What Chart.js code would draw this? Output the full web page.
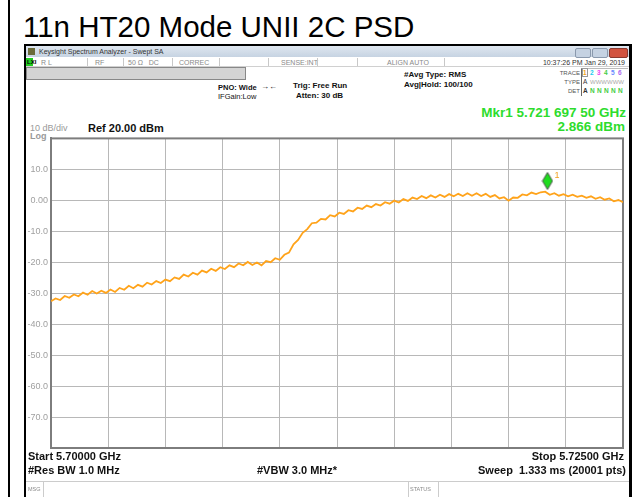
<!DOCTYPE html>
<html><head><meta charset="utf-8">
<script src="https://cdn.jsdelivr.net/npm/chart.js@4.4.1/dist/chart.umd.min.js"></script>
<style>
html,body{margin:0;padding:0;background:#fff;width:639px;height:497px;overflow:hidden;font-family:"Liberation Sans",Arial,sans-serif;}
.a{position:absolute;white-space:nowrap;line-height:1;}
.g{color:#8a8a8a;font-size:7px;}
.b{font-weight:bold;color:#111;}
.ln{position:absolute;background:#c8c8c8;}
.d{display:inline-block;width:7px;text-align:left;}
</style></head><body>
<script>
// ---- DATA ----
const startMHz = 5700, stopMHz = 5725, stepMHz = 0.2;
const traceDbm = [
-32.6,-31.7,-32.2,-30.9,-31.5,-30.4,-31.0,-29.8,-30.5,-29.3,
-30.1,-29.2,-29.9,-28.8,-29.6,-28.3,-28.9,-27.6,-28.4,-27.3,
-27.9,-26.6,-27.2,-26.1,-26.7,-25.6,-26.1,-24.9,-25.4,-24.0,
-24.6,-23.4,-24.0,-22.7,-23.3,-22.1,-22.8,-21.6,-22.2,-21.0,
-21.6,-20.4,-21.0,-19.9,-20.9,-20.1,-21.0,-19.6,-20.0,-18.7,
-19.2,-17.6,-16.9,-14.2,-12.8,-10.5,-9.3,-7.4,-7.2,-6.0,
-6.2,-4.8,-5.2,-4.0,-4.4,-3.2,-3.6,-2.4,-2.8,-1.7,
-2.2,-1.2,-1.7,-0.6,-1.1,-0.1,-0.7,0.4,-0.2,0.9,
0.4,1.4,0.7,1.6,0.9,1.8,1.1,2.0,1.3,2.1,
1.4,2.3,1.5,2.3,1.4,2.1,1.1,1.7,0.6,1.0,
-0.1,0.9,0.8,1.9,1.6,2.5,2.0,2.6,2.8,1.8,
2.3,1.5,2.0,1.3,1.8,1.1,1.5,0.8,1.3,0.5,
1.0,0.2,0.6,-0.3,0.1,-0.6
];
const markerMHz = [5721.6975];
const markerDbm = [2.866];
const yTickValues = [10,0,-10,-20,-30,-40,-50,-60,-70];
const yTickLabels = ['10.0','0.00','-10.0','-20.0','-30.0','-40.0','-50.0','-60.0','-70.0'];
</script>

<!-- outer frame -->
<div style="position:absolute;left:8px;top:0;width:2px;height:497px;background:#000"></div>
<div class="a" style="left:23px;top:12px;font-size:29.5px;color:#000;">11n HT20 Mode UNII 2C PSD</div>

<!-- screenshot window -->
<div style="position:absolute;left:24px;top:44px;width:603px;height:460px;border-left:2px solid #000;border-right:3px solid #000;border-top:2px solid #000;background:#fff"></div>
<div style="position:absolute;left:26px;top:46px;width:603px;height:11px;background:linear-gradient(#dfe7f0,#c6d3e2);"></div>
<div style="position:absolute;left:28px;top:48px;width:7px;height:7px;background:#6b6b3a"></div>
<div class="a" style="left:39px;top:48px;font-size:7px;color:#333;">Keysight Spectrum Analyzer - Swept SA</div>
<div style="position:absolute;left:575px;top:48px;width:14px;height:8px;background:#c5d2e2;border:1px solid #8a99ad;border-radius:2px"></div>
<div style="position:absolute;left:592px;top:48px;width:14px;height:8px;background:#c5d2e2;border:1px solid #8a99ad;border-radius:2px"></div>
<div style="position:absolute;left:609px;top:48px;width:17px;height:8px;background:#d2533f;border:1px solid #8a3a30;border-radius:2px"></div>

<!-- status row -->
<div style="position:absolute;left:26px;top:58px;width:603px;height:8px;background:#fff;border-bottom:1px solid #d0d0d0"></div>
<div style="position:absolute;left:26px;top:58px;width:7px;height:8px;background:#22cc22"></div>
<div class="a g" style="left:27px;top:59px;font-size:6px;color:#000;font-weight:bold">LXI</div>
<div class="a g" style="left:41px;top:59px;">R L</div>
<div class="ln" style="left:87px;top:58px;width:1px;height:8px"></div>
<div class="a g" style="left:95px;top:59px;">RF</div>
<div class="ln" style="left:123px;top:58px;width:1px;height:8px"></div>
<div class="a g" style="left:128px;top:59px;">50 Ω &nbsp; DC</div>
<div class="ln" style="left:172px;top:58px;width:1px;height:8px"></div>
<div class="a g" style="left:179px;top:59px;">CORREC</div>
<div class="ln" style="left:219px;top:58px;width:1px;height:8px"></div>
<div class="ln" style="left:268px;top:58px;width:1px;height:8px"></div>
<div class="a g" style="left:281px;top:59px;">SENSE:INT</div>
<div class="ln" style="left:317px;top:58px;width:1px;height:8px"></div>
<div class="ln" style="left:357px;top:58px;width:1px;height:8px"></div>
<div class="a g" style="left:387px;top:59px;">ALIGN AUTO</div>
<div class="ln" style="left:444px;top:58px;width:1px;height:8px"></div>
<div class="a g" style="right:14px;top:59px;color:#333;">10:37:26 PM Jan 29, 2019</div>

<div style="position:absolute;left:26px;top:67px;width:218px;height:11px;background:#d4d4d4;border:1px solid #888"></div>
<div class="a b" style="left:218px;top:84px;font-size:7.5px;">PNO: Wide</div>
<div class="a b" style="left:218px;top:93px;font-size:7.5px;font-weight:normal;">IFGain:Low</div>
<div class="a b" style="left:261px;top:83px;font-size:8px;">→←</div>
<div class="a b" style="left:293px;top:82px;font-size:8px;">Trig: Free Run</div>
<div class="a b" style="left:296px;top:92px;font-size:8px;">Atten: 30 dB</div>
<div class="a b" style="left:404px;top:71px;font-size:8px;">#Avg Type: RMS</div>
<div class="a b" style="left:404px;top:81px;font-size:8px;">Avg|Hold: 100/100</div>

<div class="a g" style="left:558px;top:70px;font-size:6px;color:#555;text-align:right;width:22px;">TRACE</div>
<div class="a g" style="left:558px;top:79px;font-size:6px;color:#555;text-align:right;width:22px;">TYPE</div>
<div class="a g" style="left:558px;top:88px;font-size:6px;color:#555;text-align:right;width:22px;">DET</div>
<div style="position:absolute;left:581px;top:68px;width:46px;height:27px;border-left:1px solid #666;border-top:1px solid #bbb"></div>
<div class="a" style="left:583px;top:70px;font-size:6.5px;font-weight:bold;"><span class="d" style="color:#f0a020;"><span style="outline:1px solid #999">1</span></span><span class="d" style="color:#22ccee">2</span><span class="d" style="color:#ee44ee">3</span><span class="d" style="color:#44cc44">4</span><span class="d" style="color:#6688ff">5</span><span class="d" style="color:#aa66ee">6</span></div>
<div class="a" style="left:583px;top:79px;font-size:6.5px;color:#333;"><span class="d">A</span><span style="color:#aaa;font-size:6px">WWWWWW</span></div>
<div class="a" style="left:583px;top:88px;font-size:6.5px;color:#333;font-weight:bold"><span class="d">A</span><span class="d" style="color:#44cc44">N</span><span class="d" style="color:#44cc44">N</span><span class="d" style="color:#44cc44">N</span><span class="d" style="color:#44cc44">N</span><span class="d" style="color:#44cc44">N</span></div>

<div class="a" style="right:13px;top:106px;font-size:13.5px;font-weight:bold;color:#2ddc2d;">Mkr1 5.721 697 50 GHz</div>
<div class="a" style="right:14px;top:120px;font-size:13.5px;font-weight:bold;color:#2ddc2d;">2.866 dBm</div>

<div class="a" style="left:30px;top:124px;font-size:9px;color:#999;">10 dB/div</div>
<div class="a" style="left:30px;top:132px;font-size:9px;color:#999;font-weight:bold">Log</div>
<div class="a b" style="left:88px;top:123px;font-size:11px;">Ref 20.00 dBm</div>

<div style="position:absolute;left:25px;top:130px;width:605px;height:330px;">
<canvas id="c" width="605" height="330"></canvas>
</div>

<div class="a b" style="left:28px;top:451px;font-size:11px;">Start 5.70000 GHz</div>
<div class="a b" style="left:28px;top:465px;font-size:11px;">#Res BW 1.0 MHz</div>
<div class="a b" style="left:257px;top:465px;font-size:11px;">#VBW 3.0 MHz*</div>
<div class="a b" style="right:15px;top:451px;font-size:11px;">Stop 5.72500 GHz</div>
<div class="a b" style="right:13px;top:465px;font-size:11px;">Sweep&nbsp;&nbsp;1.333 ms (20001 pts)</div>

<div style="position:absolute;left:26px;top:481px;width:603px;height:1px;background:#ccc"></div>
<div style="position:absolute;left:43px;top:482px;width:1px;height:15px;background:#ccc"></div>
<div class="a g" style="left:28px;top:487px;font-size:5.5px;">MSG</div>
<div style="position:absolute;left:408px;top:482px;width:1px;height:15px;background:#ccc"></div>
<div style="position:absolute;left:438px;top:482px;width:1px;height:15px;background:#ccc"></div>
<div class="a g" style="left:410px;top:487px;font-size:5.5px;">STATUS</div>

<script>
const tracePoints = traceDbm.map((v, i) => ({x: startMHz + i * stepMHz, y: v}));
const markerPoints = markerMHz.map((f, i) => ({x: f, y: markerDbm[i]}));

// diamond marker image (drawn above its point)
const dia = document.createElement('canvas');
dia.width = 12; dia.height = 40;
(function(){
  const c = dia.getContext('2d');
  c.beginPath();
  c.moveTo(6, 1); c.lineTo(11, 9.5); c.lineTo(6, 18); c.lineTo(1, 9.5); c.closePath();
  c.fillStyle = '#1fdc1f'; c.fill();
  c.strokeStyle = '#4a4a4a'; c.lineWidth = 1; c.stroke();
})();

const framePlugin = {
  id: 'frame',
  beforeDatasetsDraw(chart) {
    const {ctx, chartArea: a} = chart;
    ctx.save();
    ctx.strokeStyle = '#7d7d7d'; ctx.lineWidth = 2;
    ctx.strokeRect(a.left, a.top, a.right - a.left, a.bottom - a.top);
    ctx.restore();
  },
  afterDatasetsDraw(chart) {
    const meta = chart.getDatasetMeta(1);
    const ctx = chart.ctx;
    meta.data.forEach(p => {
      ctx.save();
      ctx.fillStyle = '#f0a020';
      ctx.font = '9px "Liberation Sans", Arial';
      ctx.fillText('1', p.x + 7, p.y - 13);
      ctx.restore();
    });
  }
};

new Chart(document.getElementById('c'), {
  type: 'line',
  data: {
    datasets: [
      {data: tracePoints, borderColor: '#ffa31a', borderWidth: 1.8, pointRadius: 0, tension: 0, fill: false},
      {type: 'scatter', data: markerPoints, pointStyle: dia, pointRadius: 6, showLine: false}
    ]
  },
  options: {
    responsive: false, animation: false,
    layout: {padding: {top: 8, right: 6, bottom: 12, left: 0}},
    plugins: {legend: {display: false}, tooltip: {enabled: false}},
    scales: {
      x: {type: 'linear', min: startMHz, max: stopMHz,
          ticks: {display: false, stepSize: 2.5},
          grid: {color: '#b8b8b8', lineWidth: 1, drawTicks: false},
          border: {color: '#7d7d7d', width: 2}},
      y: {min: -80, max: 20,
          ticks: {stepSize: 10, color: '#a0a0a0', padding: 3,
                  font: {size: 9, family: '"Liberation Sans", Arial'},
                  callback: (v) => { const i = yTickValues.indexOf(v); return i >= 0 ? yTickLabels[i] : ''; }},
          grid: {color: '#b8b8b8', lineWidth: 1, drawTicks: false},
          border: {color: '#7d7d7d', width: 2},
          afterFit: (s) => { s.width = 26; }}
    }
  },
  plugins: [framePlugin]
});
</script>
</body></html>
